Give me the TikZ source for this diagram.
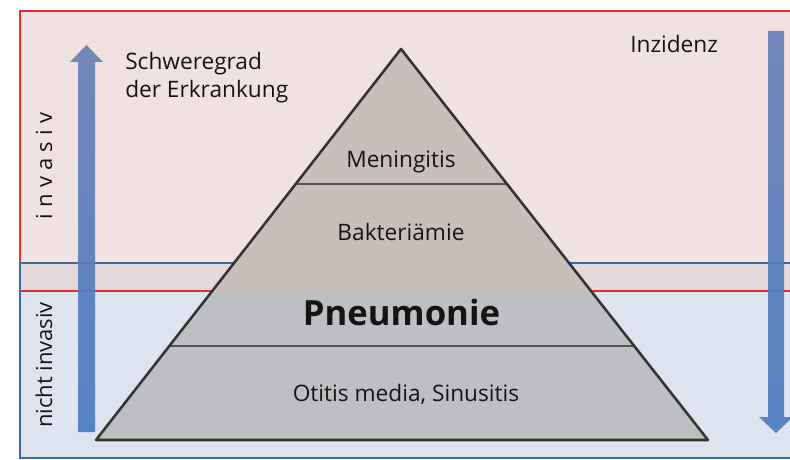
\documentclass[tikz,border=0pt]{standalone}
\usepackage{fontspec}
\setmainfont{Open Sans}
\usetikzlibrary{calc}
\definecolor{bgpink}{HTML}{F0E2E2}
\definecolor{bgstrip}{HTML}{E4D8DB}
\definecolor{bgblue}{HTML}{DDE3EF}
\definecolor{redln}{HTML}{E0332E}
\definecolor{blueln}{HTML}{3B6A9E}
\definecolor{arrtop}{HTML}{6A80B6}
\definecolor{arrbot}{HTML}{4A7CC2}
\definecolor{pyrup}{HTML}{C8BEBA}
\definecolor{pyrlow}{HTML}{BEBFC2}
\definecolor{pyrline}{HTML}{333333}
\definecolor{sepline}{HTML}{555555}
\definecolor{txt}{HTML}{141414}
\begin{document}
\begin{tikzpicture}[x=0.75pt,y=-0.75pt,
  redline/.style={draw=redln,line width=1.7pt},
  blueline/.style={draw=blueln,line width=1.6pt},
  bigarrow/.style={top color=arrtop,bottom color=arrbot,opacity=0.92},
  pyredge/.style={draw=pyrline,line width=1.9pt,line join=round},
  sep/.style={draw=sepline,line width=1.1pt},
  lbl/.style={font=\fontsize{17}{20}\selectfont,text=txt,inner sep=0pt},
  biglbl/.style={font=\fontsize{26}{30}\selectfont\bfseries,text=txt,inner sep=0pt},
  sidelbl/.style={font=\fontsize{16.5}{19}\selectfont,text=txt,inner sep=0pt,rotate=90,anchor=base}]
\clip (0,0) rectangle (790,460);
\fill[white] (0,0) rectangle (790,460);
% backgrounds
\fill[bgpink] (20,11) rectangle (800,263);
\fill[bgstrip] (20,263) rectangle (800,291);
\fill[bgblue] (20,291) rectangle (800,458);
\draw[redline] (20,11) rectangle (800,291);
\draw[blueline] (20,263) rectangle (800,458);
% arrows
\shade[bigarrow] (78,432) -- (78,62) -- (70,62) -- (86.5,45) -- (103,62) -- (95,62) -- (95,432) -- cycle;
\shade[bigarrow] (768,31) -- (784,31) -- (784,417) -- (793,417) -- (776,433) -- (759,417) -- (768,417) -- cycle;
% pyramid
\coordinate (apex) at (401,49);
\coordinate (bl) at (96,440);
\coordinate (br) at (708,440);
\begin{scope}
  \clip (apex) -- (bl) -- (br) -- cycle;
  \fill[pyrup] (0,0) rectangle (790,291);
  \fill[pyrlow] (0,291) rectangle (790,460);
\end{scope}
\coordinate (s1l) at ($(apex)!135/391!(bl)$);
\coordinate (s1r) at ($(apex)!135/391!(br)$);
\coordinate (s2l) at ($(apex)!297/391!(bl)$);
\coordinate (s2r) at ($(apex)!297/391!(br)$);
\draw[sep] (s1l) -- (s1r);
\draw[sep] (s2l) -- (s2r);
\draw[pyredge] (apex) -- (bl) -- (br) -- cycle;
% labels
\node[lbl,anchor=base] (men) at (401,167) {Meningitis};
\node[lbl,anchor=base] (bak) at (401,240) {Bakteriämie};
\node[biglbl,anchor=base] (pne) at (401.5,325) {Pneumonie};
\node[lbl,anchor=base] (oti) at (406,401) {Otitis media, Sinusitis};
\node[lbl,anchor=base west] (sw1) at (125,70) {Schweregrad};
\node[lbl,anchor=base west] (sw2) at (125,98) {der Erkrankung};
\node[lbl,anchor=base west] (inz) at (630,53) {Inzidenz};
\node[sidelbl] (inv) at (52,166) {\addfontfeature{LetterSpace=28}invasiv};
\node[sidelbl] (ninv) at (52,365) {nicht invasiv};
\end{tikzpicture}
\end{document}
